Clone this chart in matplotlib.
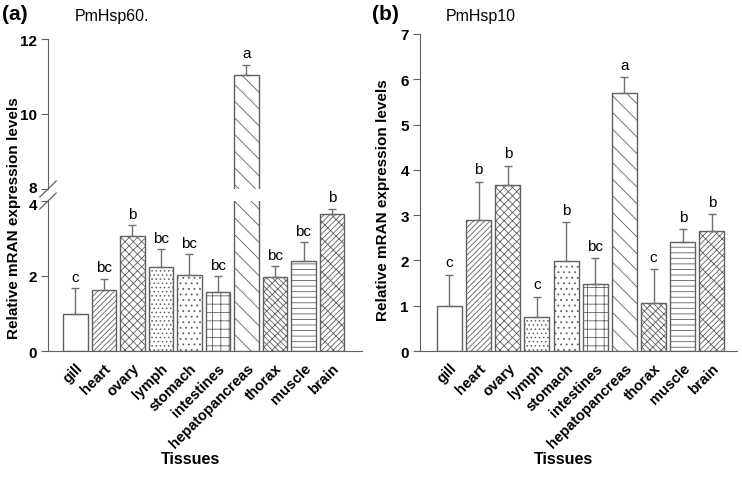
import numpy as np
import matplotlib
matplotlib.use("Agg")
import matplotlib.pyplot as plt
import matplotlib.transforms as mtransforms

plt.rcParams['font.family'] = ['Liberation Sans', 'DejaVu Sans']
plt.rcParams['hatch.linewidth'] = 0.6
plt.rcParams['hatch.color'] = '#555555'

tissues = ["gill", "heart", "ovary", "lymph", "stomach", "intestines",
           "hepatopancreas", "thorax", "muscle", "brain"]
hatches = ["", "//////", "xxxx", "....", "...", "++", "\\\\", "xxx\\\\\\", "---", "////xx"]

# PmHsp60
hsp60_mean = [0.99, 1.63, 3.07, 2.25, 2.03, 1.58, 11.05, 1.97, 2.39, 3.65]
hsp60_top = [1.67, 1.92, 3.35, 2.71, 2.58, 1.99, 11.32, 2.26, 2.90, 3.80]
hsp60_sig = ["c", "bc", "b", "bc", "bc", "bc", "a", "bc", "bc", "b"]

# PmHsp10
hsp10_mean = [1.00, 2.90, 3.67, 0.76, 1.98, 1.48, 5.70, 1.07, 2.41, 2.66]
hsp10_top = [1.68, 3.74, 4.09, 1.20, 2.85, 2.05, 6.05, 1.81, 2.69, 3.02]
hsp10_sig = ["c", "b", "b", "c", "b", "bc", "a", "c", "b", "b"]

W, H = 742, 481
fig = plt.figure(figsize=(W / 100, H / 100), dpi=100)


def px(x0, y_top, x1, y_bot):
    # pixel box -> figure fraction rect
    return [x0 / W, 1 - y_bot / H, (x1 - x0) / W, (y_bot - y_top) / H]


edge = '#606060'
x = np.arange(len(tissues))


def draw_bars(ax, means, tops, sigs, ylim, label_pad):
    yerr = [np.zeros(len(means)), np.array(tops) - np.array(means)]
    bars = ax.bar(x, means, width=0.86, color='white', edgecolor=edge,
                  linewidth=1.0, yerr=yerr, capsize=3,
                  error_kw=dict(ecolor='#707070', elinewidth=1.0, capthick=1.0))
    for b, h in zip(bars, hatches):
        b.set_hatch(h)
    for xi, t, s in zip(x, tops, sigs):
        if ylim[0] <= t <= ylim[1]:
            ax.text(xi, t + label_pad, s, ha='center', va='bottom', fontsize=11)
    ax.set_ylim(*ylim)
    for s in ['top', 'right']:
        ax.spines[s].set_visible(False)
    ax.spines['left'].set_color(edge)
    ax.spines['bottom'].set_color(edge)
    ax.tick_params(axis='y', direction='out', length=5, color=edge,
                   labelsize=11, pad=3)


def bold_yticks(ax):
    for lab in ax.get_yticklabels():
        lab.set_fontweight('bold')


def set_xlabels(ax):
    ax.set_xticks(x)
    ax.set_xticklabels(tissues, rotation=45, ha='right', rotation_mode='anchor',
                       fontsize=10.5, fontweight='bold')
    ax.tick_params(axis='x', length=0, pad=7)


# ---------- (a) PmHsp60 with broken axis ----------
ax_lo = fig.add_axes(px(48, 202, 362, 352))
ax_hi = fig.add_axes(px(48, 40, 362, 190))
xl = (-0.96, 10.05)
draw_bars(ax_lo, hsp60_mean, hsp60_top, hsp60_sig, (0, 4), 0.12)
draw_bars(ax_hi, hsp60_mean, hsp60_top, hsp60_sig, (8, 12), 0.12)
ax_lo.set_xlim(*xl)
ax_hi.set_xlim(*xl)
ax_lo.set_yticks([0, 2, 4])
ax_hi.set_yticks([8, 10, 12])
bold_yticks(ax_lo)
bold_yticks(ax_hi)
ax_hi.spines['bottom'].set_visible(False)
ax_hi.set_xticks([])
set_xlabels(ax_lo)

# nudge the "8" and "4" labels apart a little at the break
up = mtransforms.ScaledTranslation(0, 2 / 72, fig.dpi_scale_trans)
down = mtransforms.ScaledTranslation(0, -2 / 72, fig.dpi_scale_trans)
lab8 = ax_hi.get_yticklabels()[0]
lab8.set_transform(lab8.get_transform() + up)
lab4 = ax_lo.get_yticklabels()[-1]
lab4.set_transform(lab4.get_transform() + down)

# break marks
d = 0.011
kw = dict(color=edge, lw=0.9, clip_on=False, transform=fig.transFigure)
for yb in [1 - 190 / H, 1 - 202 / H]:
    fig.add_artist(plt.Line2D([48 / W - d, 48 / W + d], [yb - 1.5 * d, yb + 1.5 * d], **kw))

fig.text(2 / W, 1 - 15 / H, "(a)", fontsize=15, fontweight='bold', va='center')
fig.text(75 / W, 1 - 16 / H, "PmHsp60.", fontsize=11.5, va='center')
fig.text(14 / W, 1 - 218 / H, "Relative mRAN expression levels", rotation=90,
         fontsize=11, fontweight='bold', ha='center', va='center')
fig.text(190 / W, 1 - 460 / H, "Tissues", fontsize=11.5, fontweight='bold',
         ha='center', va='center')

# ---------- (b) PmHsp10 ----------
ax_b = fig.add_axes(px(420, 35, 737, 352))
draw_bars(ax_b, hsp10_mean, hsp10_top, hsp10_sig, (0, 7), 0.12)
ax_b.set_xlim(-1.01, 9.86)
ax_b.set_yticks(range(8))
bold_yticks(ax_b)
set_xlabels(ax_b)

fig.text(372 / W, 1 - 15 / H, "(b)", fontsize=15, fontweight='bold', va='center')
fig.text(446 / W, 1 - 16 / H, "PmHsp10", fontsize=11.5, va='center')
fig.text(383 / W, 1 - 200 / H, "Relative mRAN expression levels", rotation=90,
         fontsize=11, fontweight='bold', ha='center', va='center')
fig.text(563 / W, 1 - 460 / H, "Tissues", fontsize=11.5, fontweight='bold',
         ha='center', va='center')

fig.savefig("out.png", dpi=100)
